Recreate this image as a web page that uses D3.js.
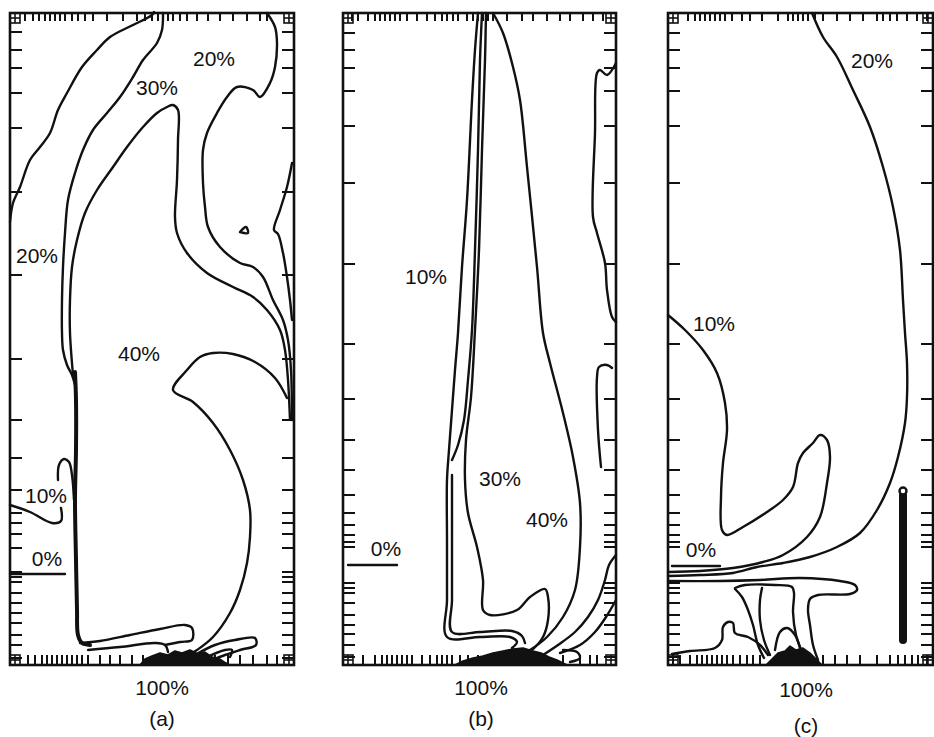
<!DOCTYPE html>
<html>
<head>
<meta charset="utf-8">
<script src="https://cdn.jsdelivr.net/npm/d3@7"></script>
<style>
body { margin: 0; background: #fff; }
text { font-family: "Liberation Sans", Arial, sans-serif; font-size: 21px; fill: #111; }
</style>
</head>
<body>
<svg id="chart" width="934" height="737"></svg>
<script>
// contour data, in drawing units of each panel: x from the left wall, y up from the floor

// ---- panel (a) ----
var a20outer = [[144,653],[142,650],[123,640],[100,628],[87,615],[72,598],[57,572],[48,555],[40,532],[30,518],[20,505],[10,478],[3,462],[0,443]];
var a30outer = [[153,652],[152,635],[147,622],[133,605],[123,588],[110,568],[97,552],[83,535],[73,515],[65,492],[58,465],[55,432],[53,398],[52,365],[52,332],[53,315],[57,300],[62,290],[65,280]];
var a30inner = [[63,290],[60,332],[60,365],[62,398],[67,425],[75,452],[87,475],[103,498],[117,518],[133,538],[147,552],[157,558],[163,560],[168,555],[168,525],[167,485],[165,448],[167,432],[177,412],[197,392],[223,378],[243,368],[257,355],[270,335],[275,315],[278,285],[280,245]];
var a20right = [[257,652],[265,638],[267,622],[265,598],[260,582],[250,568],[243,575],[227,578],[217,568],[207,552],[197,532],[193,515],[193,482],[195,458],[198,438],[210,418],[230,402],[243,398],[253,388],[263,365],[273,345],[278,325],[281,295],[282,245]];
var aSpur = [[282,502],[277,478],[270,455],[264,435],[268,431],[273,412],[277,388],[280,365],[282,345]];
var aIsland = [[230,433],[236,438],[238,432],[230,433]];
var aWall = [[65,293],[66,265],[66,215],[65,165],[66,105],[67,55],[68,30],[72,22],[80,20]];
var a40 = [[277,267],[265,287],[245,303],[223,311],[203,312],[190,308],[177,295],[163,275],[183,263],[203,242],[220,215],[233,185],[240,155],[240,128],[237,102],[230,75],[220,52],[203,28],[187,15],[177,9]];
var a10left = [[0,160],[20,153],[42,142],[51,144],[51,157]];
var a10wall = [[48,185],[49,200],[54,206],[59,203],[62,190],[64,165]];
var a0 = [[0,91],[55,91]];
var aFloor1 = [[70,22],[90,24],[120,30],[150,36],[175,40],[182,37],[182,25],[170,23],[155,20]];
var aFloor2 = [[78,15],[110,18],[145,22],[155,20],[158,13]];
var aFloor3 = [[185,10],[205,20],[225,25],[245,27],[246,20],[230,15],[215,10],[202,5]];
var aFloor4 = [[195,7],[215,15],[222,15],[220,8]];
var aBlob = [[130,0],[135,6],[142,9],[150,12],[158,10],[165,14],[172,12],[180,15],[188,11],[195,13],[202,8],[210,6],[216,2],[220,0]];

// ---- panel (b) ----
var b10outer = [[135,652],[132,615],[129,565],[124,465],[119,398],[115,332],[112,295],[109,255],[106,215],[104,185],[104,125],[104,65],[104,28],[137,28],[167,28],[174,23],[169,17]];
var b10inner = [[109,190],[109,125],[109,65],[109,33],[137,33],[169,34],[179,29],[182,22]];
var b20 = [[139,652],[137,605],[135,515],[132,415],[129,335],[125,285],[121,245],[115,220],[109,205]];
var b30 = [[143,652],[142,605],[139,515],[136,415],[132,335],[128,268],[123,225],[122,185],[125,152],[134,118],[140,85],[140,55],[147,50],[174,55],[187,68],[202,76],[205,68],[205,45],[200,28],[189,15],[177,7]];
var b40 = [[150,652],[160,632],[170,598],[177,565],[184,498],[194,398],[200,332],[207,302],[220,252],[230,208],[237,162],[237,118],[232,75],[220,48],[204,28],[187,15],[172,7]];
var bRightTop = [[273,602],[264,590],[257,595],[254,592],[252,532],[250,448],[254,432],[262,402],[264,375],[269,348],[273,343]];
var bRightLoop = [[269,297],[264,300],[256,298],[254,288],[255,235],[258,198]];
var bRightLow = [[273,110],[266,100],[262,85],[255,65],[245,48],[232,33],[215,20],[200,10]];
var bRightLow2 = [[273,65],[263,48],[252,33],[237,20],[217,12]];
var bFloorLoop = [[220,15],[234,13],[237,7],[227,3]];
var b0 = [[5,100],[54,100]];
var bBlob = [[112,0],[120,4],[130,7],[140,9],[150,12],[160,14],[170,16],[180,17],[190,14],[198,12],[206,8],[214,5],[220,2],[224,0]];

// ---- panel (c) ----
var c20 = [[144,652],[155,628],[169,608],[185,575],[202,538],[215,498],[225,458],[232,415],[235,365],[237,332],[239,302],[239,268],[237,242],[230,208],[222,182],[209,155],[192,132],[169,118],[142,108],[115,102],[89,98],[65,92],[32,90],[0,89]];
var c10 = [[0,350],[17,335],[35,315],[49,292],[57,262],[59,235],[55,202],[53,168],[54,135],[59,130],[75,138],[99,153],[115,165],[125,178],[130,202],[135,212],[145,222],[152,230],[159,225],[162,208],[159,182],[152,148],[139,128],[115,110],[95,103],[65,97],[32,94],[0,93]];
var cLoop = [[0,84],[52,84],[92,85],[132,87],[172,84],[187,80],[189,75],[182,71],[150,70],[142,66],[140,55],[142,40],[145,20],[150,5]];
var cStem1 = [[67,77],[77,80],[107,80],[124,78],[126,72],[125,53],[128,30],[134,13]];
var cStem2 = [[67,76],[74,68],[80,55],[85,40],[90,20],[96,7]];
var cStem3 = [[94,77],[92,65],[92,45],[96,25],[102,10]];
var cFloor = [[4,11],[22,14],[47,17],[54,25],[55,38],[60,43],[65,42],[67,32],[80,28],[92,20],[100,10]];
var cFloorLoop = [[107,15],[112,33],[119,37],[127,30],[132,17]];
var cBar = [[235,170],[235,25]];
var c0 = [[4,99],[52,99]];
var cBlob = [[98,0],[104,6],[110,12],[117,14],[122,19],[128,15],[135,17],[142,12],[148,6],[154,0]];

// tick positions (mesh lines)
var yTicksA = [633,615,597,572,537,473,390,306,245,207,175,152,142,131,117,93,88,83,72,62,52,42,30,20,7];
var yTicksBC = [632,615,597,574,539,482,401,321,266,225,195,170,152,140,130,123,118,82,77,72,62,50,40,31,20,8];
var topTicksA = [15,23,29,35,40,45,50,55,62,68,75,83,97,113,127,135,142,148,153,158,163,170,177,187,198,210,223,237,250,257];
var bottomTicksA = [18,25,32,37,42,47,52,57,62,67,72,78,90,100,110,122,133,145,155,165,175,185,195,205,218,230,243,257,267];
var topTicksB = [9,15,25,32,37,42,47,52,57,64,74,84,92,99,104,110,115,124,130,135,140,145,150,164,179,190,204,217,227,240,250,260];
var bottomTicksB = [20,32,39,44,49,54,59,64,69,79,87,94,99,104,109,117,125,135,145,155,165,180,200,220,237,247,254];
var topTicksC = [20,27,32,37,42,47,52,57,64,74,82,94,110,120,125,130,135,140,147,155,169,182,195,209,215,222,229,239,249,259];
var bottomTicksC = [5,12,22,29,34,39,44,49,54,59,65,72,79,85,92,155,167,179,192,209,222,230,237,244,250,259];

// contour labels
var labelsA = [["20%",204,607],["30%",147,578],["20%",27,410],["40%",129,312],["10%",36,170],["0%",37,107]];
var labelsB = [["10%",83,389],["30%",157,187],["40%",204,146],["0%",43,117]];
var labelsC = [["20%",204,605],["10%",46,342],["0%",33,116]];

var panels = [
  {name:"(a)", left:10, top:13, width:284, height:652,
   lines:[a20outer,a30outer,a30inner,a20right,aSpur,aIsland,a40,a10left,a10wall,a0,aFloor1,aFloor2,aFloor3,aFloor4],
   thick:[aWall], blob:aBlob, labels:labelsA,
   yTicks:yTicksA, topTicks:topTicksA, bottomTicks:bottomTicksA, capX:152, capDy:[22,53]},
  {name:"(b)", left:343, top:13, width:273, height:652,
   lines:[b10outer,b10inner,b20,b30,b40,bRightTop,bRightLoop,bRightLow,bRightLow2,bFloorLoop,b0],
   thick:[], blob:bBlob, labels:labelsB,
   yTicks:yTicksBC, topTicks:topTicksB, bottomTicks:bottomTicksB, capX:138, capDy:[22,53]},
  {name:"(c)", left:668, top:13, width:265, height:652,
   lines:[c20,c10,cLoop,cStem1,cStem2,cStem3,cFloor,cFloorLoop,c0],
   thick:[], blob:cBlob, labels:labelsC, bar:cBar,
   yTicks:yTicksBC, topTicks:topTicksC, bottomTicks:bottomTicksC, capX:138, capDy:[24,60]}
];

var svg = d3.select("#chart");
svg.append("rect").attr("width",934).attr("height",737).attr("fill","#fff");

panels.forEach(function(p) {
  var x = d3.scaleLinear().domain([0, p.width]).range([p.left, p.left + p.width]);
  var y = d3.scaleLinear().domain([0, p.height]).range([p.top + p.height, p.top]);
  var g = svg.append("g");

  var line = d3.line()
      .x(function(d) { return x(d[0]); })
      .y(function(d) { return y(d[1]); })
      .curve(d3.curveCatmullRom.alpha(0.5));

  // ticks, all pointing inward
  var tk = g.append("g").attr("stroke","#111").attr("stroke-width",2);
  p.yTicks.forEach(function(v) {
    tk.append("line").attr("x1",x(0)).attr("x2",x(0)+12).attr("y1",y(v)).attr("y2",y(v));
    tk.append("line").attr("x1",x(p.width)).attr("x2",x(p.width)-12).attr("y1",y(v)).attr("y2",y(v));
  });
  p.topTicks.forEach(function(v) {
    tk.append("line").attr("x1",x(v)).attr("x2",x(v)).attr("y1",y(p.height)).attr("y2",y(p.height)+8);
  });
  p.bottomTicks.forEach(function(v) {
    tk.append("line").attr("x1",x(v)).attr("x2",x(v)).attr("y1",y(0)).attr("y2",y(0)-10);
  });

  // small grid boxes in the corners
  [[0,0],[p.width,0],[0,p.height],[p.width,p.height]].forEach(function(c) {
    var cx = x(c[0]) + (c[0] ? -10 : 0), cy = y(c[1]) + (c[1] ? 0 : -10);
    var box = g.append("g").attr("stroke","#111").attr("stroke-width",1.6).attr("fill","none");
    box.append("rect").attr("x",cx).attr("y",cy).attr("width",10).attr("height",10);
    box.append("line").attr("x1",cx+5).attr("x2",cx+5).attr("y1",cy).attr("y2",cy+10);
    box.append("line").attr("x1",cx).attr("x2",cx+10).attr("y1",cy+5).attr("y2",cy+5);
  });

  // frame
  g.append("rect")
      .attr("x",x(0)).attr("y",y(p.height))
      .attr("width",x(p.width)-x(0)).attr("height",y(0)-y(p.height))
      .attr("fill","none").attr("stroke","#111").attr("stroke-width",2.6);

  // contours
  g.selectAll("path.c").data(p.lines).enter().append("path")
      .attr("class","c")
      .attr("d",line)
      .attr("fill","none").attr("stroke","#111").attr("stroke-width",2.4)
      .attr("stroke-linejoin","round").attr("stroke-linecap","round");
  g.selectAll("path.t").data(p.thick).enter().append("path")
      .attr("class","t")
      .attr("d",line)
      .attr("fill","none").attr("stroke","#111").attr("stroke-width",4)
      .attr("stroke-linecap","round");

  // dense region near the inlet
  g.append("path").datum(p.blob)
      .attr("d", d3.line().x(function(d){return x(d[0]);}).y(function(d){return y(d[1]);}))
      .attr("fill","#111").attr("stroke","#111").attr("stroke-width",1.5).attr("stroke-linejoin","round");

  if (p.bar) {
    g.append("path").datum(p.bar).attr("d",d3.line().x(function(d){return x(d[0]);}).y(function(d){return y(d[1]);}))
        .attr("stroke","#111").attr("stroke-width",8).attr("stroke-linecap","round");
    g.append("circle").attr("cx",x(p.bar[0][0])).attr("cy",y(p.bar[0][1])-4).attr("r",3.5)
        .attr("fill","#fff").attr("stroke","#111").attr("stroke-width",2.4);
  }

  // labels
  g.selectAll("text.l").data(p.labels).enter().append("text")
      .attr("class","l")
      .attr("x",function(d){return x(d[1]);})
      .attr("y",function(d){return y(d[2]);})
      .attr("text-anchor","middle").attr("dominant-baseline","central")
      .text(function(d){return d[0];});

  g.append("text").attr("x",x(p.capX)).attr("y",y(0)+p.capDy[0])
      .attr("text-anchor","middle").attr("dominant-baseline","central").text("100%");
  g.append("text").attr("x",x(p.capX)).attr("y",y(0)+p.capDy[1])
      .attr("text-anchor","middle").attr("dominant-baseline","central").text(p.name);
});
</script>
</body>
</html>
